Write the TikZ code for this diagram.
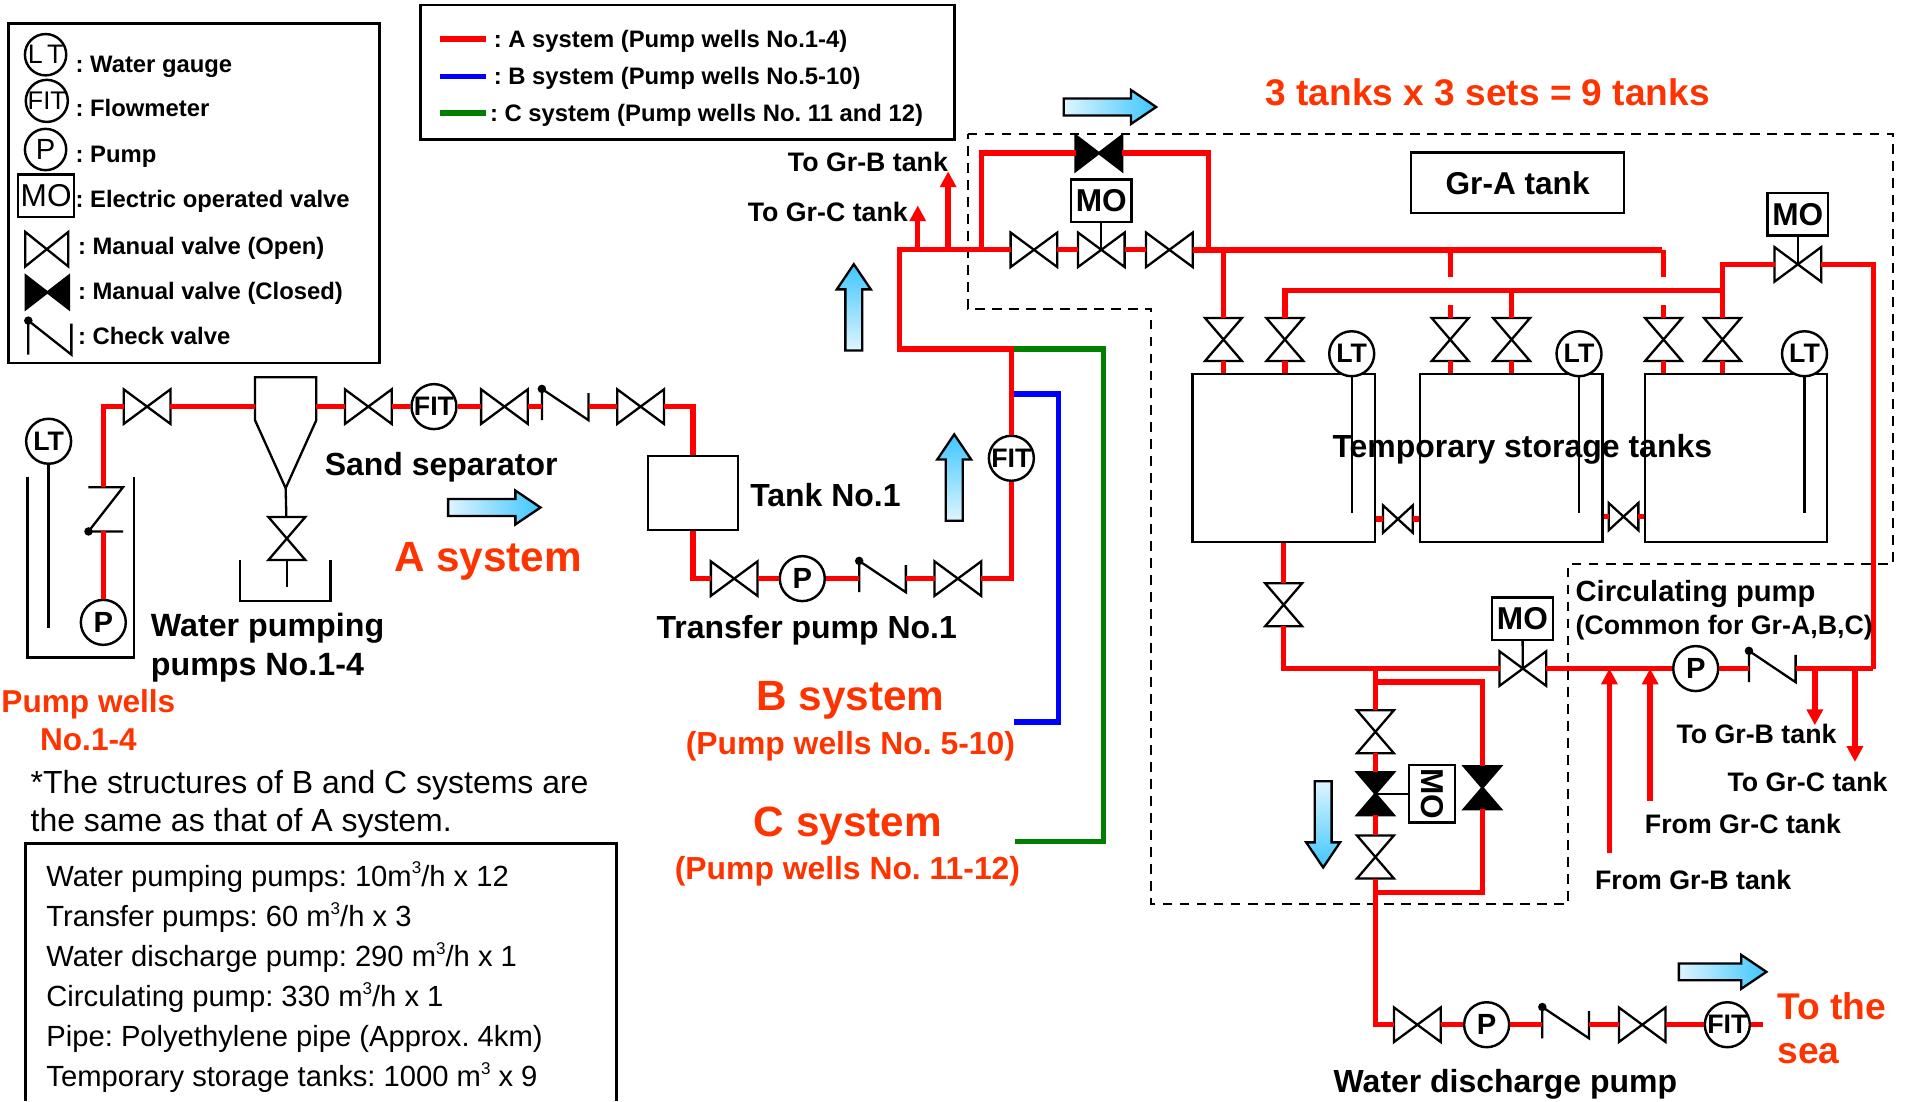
\documentclass[tikz,border=0pt]{standalone}
\usepackage{fontspec}
\setmainfont{Liberation Sans}
\usepackage{tikz}
\usetikzlibrary{positioning, arrows.meta, shapes.arrows, calc}

\frenchspacing
\newcommand{\fsz}[1]{\fontsize{#1}{\the\dimexpr#1pt*12/10\relax}\selectfont}
\newcommand{\cubed}{\raisebox{0.42em}{\fontsize{14}{14}\selectfont 3}}
\definecolor{alertred}{RGB}{255,51,0}
\definecolor{flowlight}{RGB}{222,245,255}
\definecolor{flowdark}{RGB}{62,198,255}

\begin{document}
\begin{tikzpicture}
    [
        x=1pt, y=-1pt, on grid,
        pipe/.style={draw=#1, line width=4.4pt}, pipe/.default=red,
        fatpipe/.style={draw=red, line width=5pt},
        thinline/.style={draw=black, line width=1.9pt},
        dashline/.style={draw=black, line width=1.8pt, dash pattern=on 8pt off 6pt},
        pipetip/.style={-{Triangle[length=13pt,width=13pt]}},
        gauge/.style={circle, draw=black, fill=white, line width=2pt, minimum size=37pt, inner sep=0pt, font=\bfseries\fsz{22}},
        pumpgauge/.style={gauge, font=\bfseries\fsz{24}},
        keygauge/.style={circle, draw=black, fill=white, line width=2pt, minimum size=34pt, inner sep=0pt, font=\fsz{22}},
        valve/.style={minimum width=38pt, minimum height=28pt, inner sep=0pt,
            append after command={\pgfextra{\draw[black, line width=1.9pt, fill=#1]
                (\tikzlastnode.north west) -- (\tikzlastnode.south east) -- (\tikzlastnode.north east) -- (\tikzlastnode.south west) -- cycle;}}},
        valve/.default=white,
        vvalve/.style={valve=#1, rotate=90, minimum width=35pt, minimum height=30pt},
        vvalve/.default=white,
        checkv/.style={minimum width=38pt, minimum height=22pt, inner sep=0pt,
            append after command={\pgfextra{
                \coordinate (chktop) at ($(\tikzlastnode.north west)!-#1!(\tikzlastnode.south west)$);
                \draw[black, line width=1.9pt] (\tikzlastnode.south west) -- (chktop) -- (\tikzlastnode.south east) -- (\tikzlastnode.north east);
                \fill[black] (chktop) circle (3.5pt);}}},
        checkv/.default=0.15,
        modbox/.style={rectangle, draw=black, fill=white, line width=2pt, minimum width=50pt, minimum height=35pt, inner sep=0pt, font=\bfseries\fsz{26}},
        framebox/.style={rectangle, draw=black, line width=2.2pt, inner sep=0pt},
        plainbox/.style={rectangle, draw=black, line width=1.9pt, inner sep=0pt},
        keytext/.style={anchor=base west, yshift=-7pt, inner sep=0pt, font=\bfseries\fsz{19.6}},
        tag/.style={anchor=base west, yshift=-8pt, inner sep=0pt, font=\bfseries\fsz{22}},
        bigtag/.style={anchor=base west, yshift=-9.5pt, inner sep=0pt, font=\bfseries\fsz{26.3}},
        alerttag/.style={anchor=base west, yshift={-0.36pt*#1}, inner sep=0pt, text=alertred, font=\bfseries\fsz{#1}},
        alertblock/.style={anchor=west, inner sep=0pt, text=alertred, font=\bfseries\fsz{#1}},
        flow/.style={single arrow, draw=black, line width=1.9pt, inner sep=0pt, text height=12pt, text depth=0pt, minimum height=76pt,
            single arrow head extend=7pt, single arrow tip angle=68},
        flowright/.style={flow, left color=flowlight, right color=flowdark},
        flowup/.style={flow, rotate=90, minimum height=71pt, bottom color=flowlight, top color=flowdark},
        flowdown/.style={flow, rotate=-90, minimum height=71pt, top color=flowlight, bottom color=flowdark},
    ]
        \useasboundingbox (0,0) rectangle (1568,905.76);

        % dashed outline of the tank group
        \coordinate (da) at (796,110) ; \coordinate (db) at (1557.5,110) ; \coordinate (dc) at (1557.5,464) ;
        \coordinate (dd) at (1290,464) ; \coordinate (de) at (1290,743.5) ; \coordinate (df) at (947,743.5) ;
        \coordinate (dg) at (947,254) ; \coordinate (dh) at (796,254) ;
        \draw[dashline] (da) -- (db) -- (dc) -- (dd) -- (de) -- (df) -- (dg) -- (dh) -- cycle ;

        % symbols key
        \node[framebox, minimum width=305pt, minimum height=279pt] (keysym) at (159.5,159) {} ;
        \node[keygauge] (keylt) at (37.5,45) {L\,T} ;
        \node[keygauge, font=\fsz{21}] (keyfit) at (38.5,83) {FIT} ;
        \node[keygauge, font=\fsz{24}] (keyp) at (37.5,123) {P} ;
        \node[modbox, line width=1.8pt, minimum width=46pt, minimum height=35pt, font=\fsz{26}] (keymo) at (38,161) {MO} ;
        \node[valve, minimum width=35pt] (keyopen) at (38.5,205) {} ;
        \node[valve=black, minimum width=35pt, minimum height=27pt] (keyshut) at (39,240.5) {} ;
        \node[checkv=0.1, minimum width=35pt, minimum height=25pt] (keychk) at (41,279) {} ;
        \node[keytext] (txtlt) at (62,53) {: Water gauge} ;
        \node[keytext] (txtfit) at (62,89) {: Flowmeter} ;
        \node[keytext] (txtp) at (62,127) {: Pump} ;
        \node[keytext] (txtmo) at (62,164) {: Electric operated valve} ;
        \node[keytext] (txtopen) at (64,202) {: Manual valve (Open)} ;
        \node[keytext] (txtshut) at (64,239) {: Manual valve (Closed)} ;
        \node[keytext] (txtchk) at (64,276) {: Check valve} ;

        % line colour key
        \node[framebox, minimum width=439pt, minimum height=111pt] (keyline) at (565.5,59.5) {} ;
        \coordinate (kra) at (362,32) ; \coordinate (krb) at (400,32) ;
        \coordinate (kba) at (362,63) ; \coordinate (kbb) at (400,63) ;
        \coordinate (kca) at (362,93) ; \coordinate (kcb) at (400,93) ;
        \draw[pipe] (kra) -- (krb) ;
        \draw[pipe=blue] (kba) -- (kbb) ;
        \draw[pipe={green!50!black}] (kca) -- (kcb) ;
        \node[keytext] (txtra) at (406,32) {: A system (Pump wells No.1-4)} ;
        \node[keytext] (txtrb) at (406,62.5) {: B system (Pump wells No.5-10)} ;
        \node[keytext] (txtrc) at (403,93) {: C system (Pump wells No. 11 and 12)} ;

        % pump well and sand separator
        \coordinate (wella) at (22.5,392) ; \coordinate (wellb) at (22.5,541) ;
        \coordinate (wellc) at (110,541) ; \coordinate (welld) at (110,392) ;
        \draw[thinline] (wella) -- (wellb) -- (wellc) -- (welld) ;
        \node[gauge] (ltw) at (40,363) {LT} ;
        \coordinate (ltwend) at (41,517) ;
        \draw[thinline] (ltw) -- (ltw |- ltwend) ;
        \node[pumpgauge] (pw) at (85,512) {P} ;
        \node[checkv=0, rotate=90, minimum width=36pt, minimum height=28pt] (cw) at (87,419) {} ;
        \node[valve] (v1) at (121,334.5) {} ;
        \node[minimum width=50pt, minimum height=35pt, inner sep=0pt] (sep) at (235,328) {} ;
        \coordinate (apex) at (235,401.6) ;
        \draw[thinline] (sep.south west) -- (sep.north west) -- (sep.north east) -- (sep.south east) -- (apex) -- cycle ;
        \node[vvalve] (vs) at (236,443) {} ;
        \coordinate (vsend) at (236,482.6) ;
        \draw[thinline] (apex) -- (vs) ;
        \draw[thinline] (vs) -- (vsend) ;
        \coordinate (basa) at (197.5,460.7) ; \coordinate (basb) at (197.5,494.5) ;
        \coordinate (basc) at (272,494.5) ; \coordinate (basd) at (272,460.7) ;
        \draw[thinline] (basa) -- (basb) -- (basc) -- (basd) ;
        \draw[pipe] (pw) -- (pw |- cw.west) ;
        \draw[pipe] (pw |- cw.east) |- (v1) ;
        \draw[pipe] (v1) -- (v1 -| sep.west) ;

        % A system line to the transfer pump
        \node[valve] (v2) at (303,334.5) {} ;
        \node[gauge] (fit1) [right = 54pt of v2] {FIT} ;
        \node[valve] (v3) [right = 58pt of fit1] {} ;
        \node[checkv] (chk1) [right = 50pt of v3] {} ;
        \node[valve] (v4) [right = 62pt of chk1] {} ;
        \node[plainbox, minimum width=74pt, minimum height=61pt] (tkone) at (570,405.5) {} ;
        \node[valve] (v5) at (604,476) {} ;
        \node[pumpgauge] (ptr) [right = 56pt of v5] {P} ;
        \node[checkv] (chk2) [right = 66pt of ptr] {} ;
        \node[valve] (v6) [right = 62pt of chk2] {} ;
        \node[gauge] (fit2) at (832,377) {FIT} ;
        \draw[pipe] (v2 -| sep.east) -- (v2) ;
        \draw[pipe] (v2) -- (fit1) ;
        \draw[pipe] (fit1) -- (v3) ;
        \draw[pipe] (v3) -- (chk1) ;
        \draw[pipe] (chk1) -- (v4) ;
        \draw[pipe] (v4) -| (tkone) ;
        \draw[pipe] (tkone) |- (v5) ;
        \draw[pipe] (v5) -- (ptr) ;
        \draw[pipe] (ptr) -- (chk2) ;
        \draw[pipe] (chk2) -- (v6) ;
        \draw[pipe] (v6) -| (fit2) ;

        % B and C systems join, line up to the tanks
        \coordinate (jb) at (832,324) ; \coordinate (cb) at (871,594) ; \coordinate (endb) at (834,594) ;
        \coordinate (jg) at (832,287) ; \coordinate (cg) at (908,692.5) ; \coordinate (endg) at (835,692.5) ;
        \draw[pipe=blue] (jb) -| (cb) -- (endb) ;
        \draw[pipe={green!50!black}] (jg) -| (cg) -- (endg) ;
        \coordinate (jt) at (740,205.5) ;
        \coordinate (tipc) at (755,169) ; \coordinate (tipb) at (780,141) ;
        \node[valve] (va1) at (850.6,205.5) {} ;
        \node[valve] (vam) [right = 55.4pt of va1] {} ;
        \node[valve] (va3) [right = 56pt of vam] {} ;
        \node[valve=black, minimum height=29pt] (vtop) at (904,126) {} ;
        \node[modbox] (moa) at (906,165) {MO} ;
        \coordinate (jl) at (807.3,205.5) ; \coordinate (jr) at (994,205.5) ; \coordinate (hdr) at (1367.5,205.5) ;
        \draw[pipe] (fit2) -- (jg) -| (jt) -- (va1) ;
        \draw[pipe, pipetip] (tipc |- jt) -- (tipc) ;
        \draw[pipe, pipetip] (tipb |- jt) -- (tipb) ;
        \draw[pipe] (vtop) -| (jl) ;
        \draw[pipe] (vtop) -| (jr) ;
        \draw[pipe] (va1) -- (vam) ;
        \draw[pipe] (vam) -- (va3) ;
        \draw[fatpipe] (va3) -- (hdr) ;
        \draw[thinline] (moa) -- (vam.center) ;

        % temporary storage tanks
        \node[plainbox, minimum width=150pt, minimum height=138pt] (tka) at (1056,376.6) {} ;
        \node[plainbox, minimum width=150pt, minimum height=138pt] (tkb) [right = 187.4pt of tka] {} ;
        \node[plainbox, minimum width=150pt, minimum height=138pt] (tkc) [right = 184.6pt of tkb] {} ;
        \node[gauge] (lta) at (1112,291) {LT} ;
        \node[gauge] (ltb) [right = 187pt of lta] {LT} ;
        \node[gauge] (ltc) [right = 185.5pt of ltb] {LT} ;
        \coordinate (ltend) at (1112,422.3) ;
        \draw[thinline] (lta) -- (lta |- ltend) ;
        \draw[thinline] (ltb) -- (ltb |- ltend) ;
        \draw[thinline] (ltc) -- (ltc |- ltend) ;
        \node[vvalve] (tv1) at (1006.5,279.3) {} ;
        \node[vvalve] (tv2) [right = 50.5pt of tv1] {} ;
        \node[vvalve] (tv3) at (1193,279.3) {} ;
        \node[vvalve] (tv4) [right = 50.5pt of tv3] {} ;
        \node[vvalve] (tv5) at (1368.5,279.3) {} ;
        \node[vvalve] (tv6) [right = 48.5pt of tv5] {} ;
        \node[valve, minimum width=24pt, minimum height=22pt] (vta) at (1150,427) {} ;
        \node[valve, minimum width=24pt, minimum height=22pt] (vtb) at (1335.6,425) {} ;
        \node[valve] (vmb) at (1479,217.5) {} ;
        \node[modbox] (mob) at (1479,176.2) {MO} ;
        \draw[thinline] (mob) -- (vmb.center) ;
        \coordinate (gapa) at (1193,227.6) ; \coordinate (gapb) at (1193,251) ;
        \coordinate (hdrlow) at (1417,239) ;
        \coordinate (jc) at (1541,550) ;
        \draw[pipe] (tv1 |- hdr) -- (tv1) ;
        \draw[pipe] (tv3 |- hdr) -- (tv3 |- gapa) ;
        \draw[pipe] (tv3 |- gapb) -- (tv3) ;
        \draw[pipe] (tv5 |- hdr) -- (tv5 |- gapa) ;
        \draw[pipe] (tv5 |- gapb) -- (tv5) ;
        \draw[pipe] (tv2) |- (hdrlow) ;
        \draw[pipe] (tv4) -- (tv4 |- hdrlow) ;
        \draw[pipe] (tv6) |- (vmb) ;
        \draw[pipe] (vmb) -| (jc) ;
        \draw[pipe] (tv1) -- (tv1 |- tka.north) ;
        \draw[pipe] (tv2) -- (tv2 |- tka.north) ;
        \draw[pipe] (tv3) -- (tv3 |- tka.north) ;
        \draw[pipe] (tv4) -- (tv4 |- tka.north) ;
        \draw[pipe] (tv5) -- (tv5 |- tka.north) ;
        \draw[pipe] (tv6) -- (tv6 |- tka.north) ;
        \draw[pipe] (tka.east |- vta) -- (vta) ;
        \draw[pipe] (vta) -- (vta -| tkb.west) ;
        \draw[pipe] (tkb.east |- vtb) -- (vtb) ;
        \draw[pipe] (vtb) -- (vtb -| tkc.west) ;

        % circulating line
        \node[vvalve] (tv7) at (1056,497.5) {} ;
        \node[valve] (vmc) at (1252.8,550) {} ;
        \node[modbox] (moc) at (1252.4,509) {MO} ;
        \node[pumpgauge] (pc) [right = 142.2pt of vmc] {P} ;
        \node[checkv] (chk3) [right = 63pt of pc] {} ;
        \coordinate (tobb) at (1493,596.6) ; \coordinate (tocc) at (1526,626.8) ;
        \coordinate (frb) at (1324,702) ; \coordinate (frc) at (1357.5,659) ;
        \draw[pipe] (tka.south) -- (tv7) ;
        \draw[pipe] (tv7) |- (vmc) ;
        \draw[thinline] (moc) -- (vmc.center) ;
        \draw[pipe] (vmc) -- (pc) ;
        \draw[pipe] (pc) -- (chk3) ;
        \draw[pipe] (chk3) -- (jc) ;
        \draw[pipe, pipetip] (tobb |- jc) -- (tobb) ;
        \draw[pipe, pipetip] (tocc |- jc) -- (tocc) ;
        \draw[pipe, pipetip] (frb) -- (frb |- jc) ;
        \draw[pipe, pipetip] (frc) -- (frc |- jc) ;

        % valve station and water discharge line
        \coordinate (jd) at (1131.5,550) ; \coordinate (bya) at (1131.5,561) ; \coordinate (byb) at (1131.5,734) ;
        \node[vvalve] (vd1) at (1131.5,602) {} ;
        \node[vvalve=black] (vd2) [below = 51pt of vd1] {} ;
        \node[vvalve] (vd3) [below = 52pt of vd2] {} ;
        \node[vvalve=black] (vd4) at (1219.5,648) {} ;
        \node[modbox, rotate=-90, minimum width=47pt, minimum height=38pt] (mod) at (1178,653) {MO} ;
        \node[valve] (vs1) at (1166,843) {} ;
        \node[pumpgauge] (pd) [right = 57pt of vs1] {P} ;
        \node[checkv] (chk4) [right = 65pt of pd] {} ;
        \node[valve] (vs2) [right = 63pt of chk4] {} ;
        \node[gauge] (fit3) [right = 70pt of vs2] {FIT} ;
        \coordinate (seaend) at (1450,843) ;
        \draw[pipe] (jd) -- (vd1) ;
        \draw[pipe] (vd1) -- (vd2) ;
        \draw[pipe] (vd2) -- (vd3) ;
        \draw[pipe] (vd3) |- (vs1) ;
        \draw[pipe] (bya) -| (vd4) ;
        \draw[pipe] (vd4) |- (byb) ;
        \draw[thinline] (mod) -- (vd2.center) ;
        \draw[pipe] (vs1) -- (pd) ;
        \draw[pipe] (pd) -- (chk4) ;
        \draw[pipe] (chk4) -- (vs2) ;
        \draw[pipe] (vs2) -- (fit3) ;
        \draw[pipe] (fit3) -- (seaend) ;

        % flow direction arrows
        \node[flowright] (flowa) at (908,88) {} ;
        \node[flowright] (flowb) at (401.5,417.5) {} ;
        \node[flowup] (flowc) at (702.4,258) {} ;
        \node[flowup] (flowd) at (785,398) {} ;
        \node[flowdown] (flowe) at (1088.5,673) {} ;
        \node[flowright, minimum height=72pt] (flowf) at (1412,799.5) {} ;

        % labels
        \node[tag] (tognb) at (648,133) {To Gr-B tank} ;
        \node[tag] (tognc) at (615,174) {To Gr-C tank} ;
        \node[alerttag=30.5] (sets) at (1041,76) {3 tanks x 3 sets = 9 tanks} ;
        \node[plainbox, minimum width=175pt, minimum height=50pt, font=\bfseries\fsz{26}] (gra) at (1248.5,150.5) {Gr-A tank} ;
        \node[bigtag] (tmp) at (1096,367) {Temporary storage tanks} ;
        \node[bigtag] (lblsep) at (267,382) {Sand separator} ;
        \node[bigtag] (lbltk) at (617,407) {Tank No.1} ;
        \node[bigtag] (lbltr) at (540,516) {Transfer pump No.1} ;
        \node[anchor=west, inner sep=0pt, align=left, font=\bfseries\fsz{26.5}] (lblwp) at (124,533) {Water pumping\\pumps No.1-4} ;
        \node[alertblock=26, align=center] (lblwell) at (1,592.5) {Pump wells\\No.1-4} ;
        \node[alerttag=34.8] (lbla) at (324,458) {A system} ;
        \node[alerttag=34.8] (lblb) at (622,572) {B system} ;
        \node[alerttag=26.2] (lblbn) at (564,611) {(Pump wells No. 5-10)} ;
        \node[alerttag=34.8] (lblc) at (620,676) {C system} ;
        \node[alerttag=26.2] (lblcn) at (555,714) {(Pump wells No. 11-12)} ;
        \node[alertblock=30.6, align=left] (lblsea) at (1462,846) {To the\\sea} ;
        \node[bigtag] (lbldis) at (1097,889) {Water discharge pump} ;
        \node[tag, font=\bfseries\fsz{24}] (lblcp) at (1296,487) {Circulating pump} ;
        \node[tag] (lblcm) at (1296,514) {(Common for Gr-A,B,C)} ;
        \node[tag] (lbltb) at (1379,604) {To Gr-B tank} ;
        \node[tag] (lbltc) at (1421,643) {To Gr-C tank} ;
        \node[tag] (lblfc) at (1353,678) {From Gr-C tank} ;
        \node[tag] (lblfb) at (1312,724) {From Gr-B tank} ;
        \node[anchor=west, inner sep=0pt, align=left, font=\fsz{26.3}] (note) at (25,661.5) {*The structures of B and C systems are\\the same as that of A system.} ;

        % specification box, runs off the bottom of the page
        \coordinate (spa) at (21,905.76) ; \coordinate (spb) at (21,694) ;
        \coordinate (spc) at (507,694) ; \coordinate (spd) at (507,905.76) ;
        \draw[framebox] (spa) -- (spb) -- (spc) -- (spd) ;
        \node[anchor=north west, inner sep=0pt, align=left, font=\fontsize{24}{33}\selectfont] (specs) at (38,709) {Water pumping pumps: 10m\cubed/h x 12\\Transfer pumps: 60 m\cubed/h x 3\\Water discharge pump: 290 m\cubed/h x 1\\Circulating pump: 330 m\cubed/h x 1\\Pipe: Polyethylene pipe (Approx. 4km)\\Temporary storage tanks: 1000 m\cubed{} x 9} ;
    \end{tikzpicture}
\end{document}
